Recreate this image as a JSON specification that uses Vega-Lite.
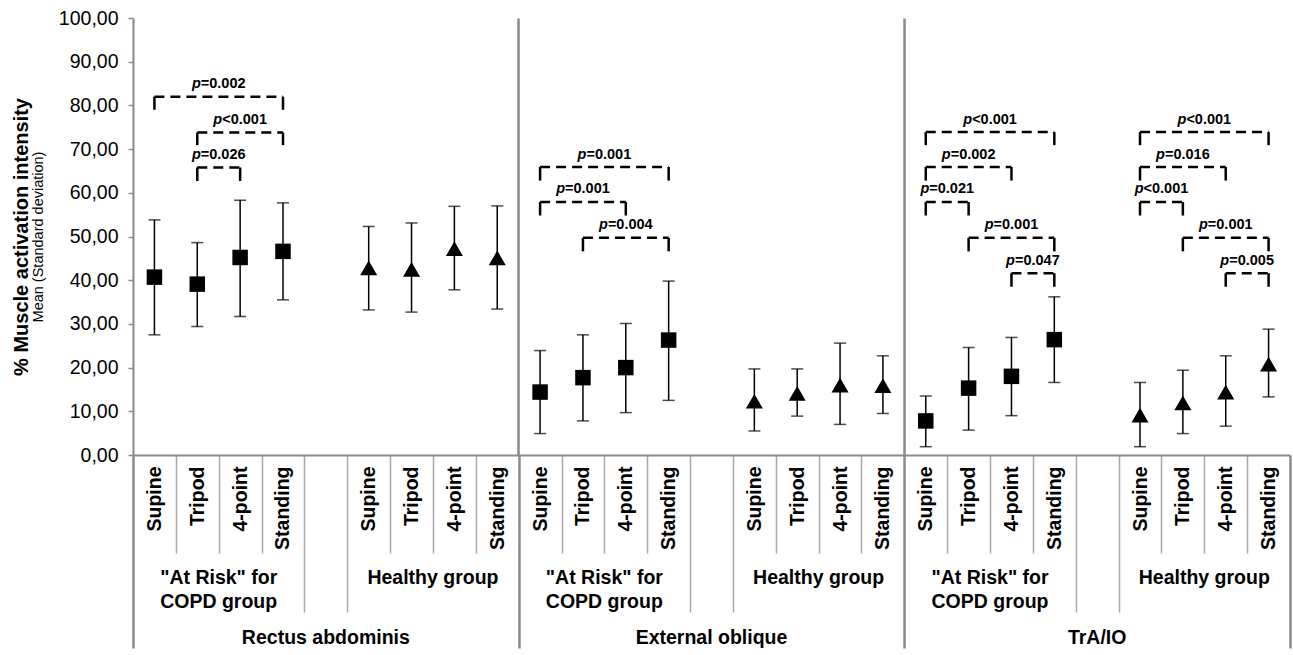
{
  "$schema": "https://vega.github.io/schema/vega-lite/v6.json",
  "width": 1157,
  "height": 437,
  "autosize": {"type": "none"},
  "padding": {"left": 133, "top": 18, "right": 3, "bottom": 200},
  "background": "white",
  "config": {"view": {"stroke": null}, "font": "Liberation Sans"},
  "datasets": {
    "points": [
      {"slot": "RA|AR|Supine", "group": "AR", "mean": 40.7, "lower": 27.5, "upper": 53.8},
      {"slot": "RA|AR|Tripod", "group": "AR", "mean": 39.1, "lower": 29.4, "upper": 48.6},
      {"slot": "RA|AR|4-point", "group": "AR", "mean": 45.2, "lower": 31.7, "upper": 58.3},
      {"slot": "RA|AR|Standing", "group": "AR", "mean": 46.6, "lower": 35.5, "upper": 57.7},
      {"slot": "RA|H|Supine", "group": "H", "mean": 42.8, "lower": 33.2, "upper": 52.3},
      {"slot": "RA|H|Tripod", "group": "H", "mean": 42.5, "lower": 32.7, "upper": 53.1},
      {"slot": "RA|H|4-point", "group": "H", "mean": 47.2, "lower": 37.8, "upper": 56.9},
      {"slot": "RA|H|Standing", "group": "H", "mean": 45.1, "lower": 33.4, "upper": 57.0},
      {"slot": "EO|AR|Supine", "group": "AR", "mean": 14.4, "lower": 4.9, "upper": 23.9},
      {"slot": "EO|AR|Tripod", "group": "AR", "mean": 17.7, "lower": 7.8, "upper": 27.5},
      {"slot": "EO|AR|4-point", "group": "AR", "mean": 20.0, "lower": 9.7, "upper": 30.1},
      {"slot": "EO|AR|Standing", "group": "AR", "mean": 26.3, "lower": 12.5, "upper": 39.8},
      {"slot": "EO|H|Supine", "group": "H", "mean": 12.3, "lower": 5.5, "upper": 19.7},
      {"slot": "EO|H|Tripod", "group": "H", "mean": 14.1, "lower": 8.9, "upper": 19.7},
      {"slot": "EO|H|4-point", "group": "H", "mean": 16.0, "lower": 7.0, "upper": 25.6},
      {"slot": "EO|H|Standing", "group": "H", "mean": 15.9, "lower": 9.5, "upper": 22.7},
      {"slot": "TrA|AR|Supine", "group": "AR", "mean": 7.8, "lower": 1.9, "upper": 13.5},
      {"slot": "TrA|AR|Tripod", "group": "AR", "mean": 15.3, "lower": 5.7, "upper": 24.6},
      {"slot": "TrA|AR|4-point", "group": "AR", "mean": 18.0, "lower": 9.0, "upper": 26.9},
      {"slot": "TrA|AR|Standing", "group": "AR", "mean": 26.4, "lower": 16.6, "upper": 36.2},
      {"slot": "TrA|H|Supine", "group": "H", "mean": 9.1, "lower": 1.9, "upper": 16.6},
      {"slot": "TrA|H|Tripod", "group": "H", "mean": 11.9, "lower": 4.9, "upper": 19.4},
      {"slot": "TrA|H|4-point", "group": "H", "mean": 14.4, "lower": 6.6, "upper": 22.7},
      {"slot": "TrA|H|Standing", "group": "H", "mean": 20.8, "lower": 13.3, "upper": 28.8}
    ],
    "brackets": [
      {"from": "RA|AR|Supine", "to": "RA|AR|Standing", "span": 3, "level": 82.0, "end": 79.0, "label": "=0.002"},
      {"from": "RA|AR|Tripod", "to": "RA|AR|Standing", "span": 2, "level": 73.8, "end": 70.9, "label": "<0.001"},
      {"from": "RA|AR|Tripod", "to": "RA|AR|4-point", "span": 1, "level": 65.8, "end": 62.7, "label": "=0.026"},
      {"from": "EO|AR|Supine", "to": "EO|AR|Standing", "span": 3, "level": 65.9, "end": 62.8, "label": "=0.001"},
      {"from": "EO|AR|Supine", "to": "EO|AR|4-point", "span": 2, "level": 57.9, "end": 54.8, "label": "=0.001"},
      {"from": "EO|AR|Tripod", "to": "EO|AR|Standing", "span": 2, "level": 49.7, "end": 46.6, "label": "=0.004"},
      {"from": "TrA|AR|Supine", "to": "TrA|AR|Standing", "span": 3, "level": 73.9, "end": 70.9, "label": "<0.001"},
      {"from": "TrA|AR|Supine", "to": "TrA|AR|4-point", "span": 2, "level": 65.9, "end": 62.8, "label": "=0.002"},
      {"from": "TrA|AR|Supine", "to": "TrA|AR|Tripod", "span": 1, "level": 57.9, "end": 54.8, "label": "=0.021"},
      {"from": "TrA|AR|Tripod", "to": "TrA|AR|Standing", "span": 2, "level": 49.7, "end": 46.6, "label": "=0.001"},
      {"from": "TrA|AR|4-point", "to": "TrA|AR|Standing", "span": 1, "level": 41.6, "end": 38.5, "label": "=0.047"},
      {"from": "TrA|H|Supine", "to": "TrA|H|Standing", "span": 3, "level": 73.9, "end": 70.9, "label": "<0.001"},
      {"from": "TrA|H|Supine", "to": "TrA|H|4-point", "span": 2, "level": 65.9, "end": 62.8, "label": "=0.016"},
      {"from": "TrA|H|Supine", "to": "TrA|H|Tripod", "span": 1, "level": 57.9, "end": 54.8, "label": "<0.001"},
      {"from": "TrA|H|Tripod", "to": "TrA|H|Standing", "span": 2, "level": 49.7, "end": 46.6, "label": "=0.001"},
      {"from": "TrA|H|4-point", "to": "TrA|H|Standing", "span": 1, "level": 41.6, "end": 38.5, "label": "=0.005"}
    ]
  },
  "resolve": {"axis": {"x": "independent", "y": "independent"}},
  "layer": [
    {
      "data": {"name": "points"},
      "mark": {"type": "rule", "color": "black", "strokeWidth": 1.5},
      "encoding": {
        "x": {
          "field": "slot", "type": "nominal",
          "scale": {"type": "band", "paddingInner": 0, "paddingOuter": 0, "domain": ["RA|AR|Supine","RA|AR|Tripod","RA|AR|4-point","RA|AR|Standing","RA|gap","RA|H|Supine","RA|H|Tripod","RA|H|4-point","RA|H|Standing","EO|AR|Supine","EO|AR|Tripod","EO|AR|4-point","EO|AR|Standing","EO|gap","EO|H|Supine","EO|H|Tripod","EO|H|4-point","EO|H|Standing","TrA|AR|Supine","TrA|AR|Tripod","TrA|AR|4-point","TrA|AR|Standing","TrA|gap","TrA|H|Supine","TrA|H|Tripod","TrA|H|4-point","TrA|H|Standing"]},
          "axis": {
            "orient": "bottom",
            "title": null,
            "grid": false,
            "tickBand": "extent",
            "domainColor": "#8a8a8a",
            "domainWidth": 2,
            "tickColor": {"condition": {"test": "datum.extra || datum.value === 'RA|H|Standing' || datum.value === 'EO|H|Standing' || datum.value === 'TrA|H|Standing'", "value": "#8a8a8a"}, "value": "#a8a8a8"},
            "tickWidth": {"condition": {"test": "datum.extra || datum.value === 'RA|H|Standing' || datum.value === 'EO|H|Standing' || datum.value === 'TrA|H|Standing'", "value": 2.5}, "value": 1.5},
            "tickSize": {"condition": [
              {"test": "datum.extra || datum.value === 'RA|H|Standing' || datum.value === 'EO|H|Standing' || datum.value === 'TrA|H|Standing'", "value": 193},
              {"test": "indexof(['RA|AR|Standing','RA|gap','EO|AR|Standing','EO|gap','TrA|AR|Standing','TrA|gap'], datum.value) >= 0", "value": 157}
            ], "value": 98},
            "labelPadding": {"condition": [
              {"test": "datum.extra || datum.value === 'RA|H|Standing' || datum.value === 'EO|H|Standing' || datum.value === 'TrA|H|Standing'", "value": -182},
              {"test": "indexof(['RA|AR|Standing','RA|gap','EO|AR|Standing','EO|gap','TrA|AR|Standing','TrA|gap'], datum.value) >= 0", "value": -146}
            ], "value": -87},
            "labelExpr": "datum.value && indexof(datum.value, 'gap') < 0 ? split(datum.value, '|')[2] : ''",
            "labelAngle": 270,
            "labelAlign": "right",
            "labelBaseline": "middle",
            "labelFontSize": 19.5,
            "labelFontWeight": "bold",
            "labelColor": "black",
            "labelLimit": 0
          }
        },
        "y": {
          "field": "lower", "type": "quantitative",
          "scale": {"domain": [0, 100], "nice": false, "zero": true},
          "axis": {
            "orient": "left",
            "values": [0, 10, 20, 30, 40, 50, 60, 70, 80, 90, 100],
            "labelExpr": "replace(format(datum.value, '.2f'), '.', ',')",
            "labelFontSize": 19.5,
            "labelColor": "black",
            "labelPadding": 10,
            "tickSize": 5,
            "tickColor": "#8a8a8a",
            "tickWidth": 1.5,
            "domainColor": "#8a8a8a",
            "domainWidth": 2,
            "grid": false,
            "title": "Mean (Standard deviation)",
            "titleFontSize": 14.5,
            "titleFontWeight": "normal",
            "titleColor": "black",
            "titlePadding": 13
          }
        },
        "y2": {"field": "upper"}
      }
    },
    {
      "data": {"name": "points"},
      "mark": {"type": "tick", "color": "black", "size": 12, "thickness": 1.5},
      "encoding": {
        "x": {
          "field": "slot", "type": "nominal",
          "scale": {"type": "band", "paddingInner": 0, "paddingOuter": 0, "domain": ["RA|AR|Supine","RA|AR|Tripod","RA|AR|4-point","RA|AR|Standing","RA|gap","RA|H|Supine","RA|H|Tripod","RA|H|4-point","RA|H|Standing","EO|AR|Supine","EO|AR|Tripod","EO|AR|4-point","EO|AR|Standing","EO|gap","EO|H|Supine","EO|H|Tripod","EO|H|4-point","EO|H|Standing","TrA|AR|Supine","TrA|AR|Tripod","TrA|AR|4-point","TrA|AR|Standing","TrA|gap","TrA|H|Supine","TrA|H|Tripod","TrA|H|4-point","TrA|H|Standing"]},
          "axis": {
            "orient": "bottom",
            "title": null,
            "grid": false,
            "ticks": false,
            "domain": false,
            "values": ["RA|AR|4-point", "RA|H|4-point", "EO|AR|4-point", "EO|H|4-point", "TrA|AR|4-point", "TrA|H|4-point"],
            "labelOffset": -21.43,
            "labelPadding": 113,
            "labelAngle": 0,
            "labelAlign": "center",
            "labelBaseline": "top",
            "labelFontSize": 19.5,
            "labelFontWeight": "bold",
            "labelLineHeight": 24,
            "labelLimit": 0,
            "labelColor": "black",
            "labelExpr": "split(datum.value, '|')[1] === 'AR' ? ['\"At Risk\" for', 'COPD group'] : 'Healthy group'"
          }
        },
        "y": {
          "field": "lower", "type": "quantitative",
          "scale": {"domain": [0, 100], "nice": false, "zero": true},
          "axis": {
            "orient": "left",
            "labels": false,
            "ticks": false,
            "domain": false,
            "grid": false,
            "title": "% Muscle activation intensity",
            "titleFontSize": 20,
            "titleFontWeight": "bold",
            "titleColor": "black",
            "titlePadding": 102
          }
        }
      }
    },
    {
      "data": {"name": "points"},
      "mark": {"type": "tick", "color": "black", "size": 12, "thickness": 1.5},
      "encoding": {
        "x": {
          "field": "slot", "type": "nominal",
          "scale": {"type": "band", "paddingInner": 0, "paddingOuter": 0, "domain": ["RA|AR|Supine","RA|AR|Tripod","RA|AR|4-point","RA|AR|Standing","RA|gap","RA|H|Supine","RA|H|Tripod","RA|H|4-point","RA|H|Standing","EO|AR|Supine","EO|AR|Tripod","EO|AR|4-point","EO|AR|Standing","EO|gap","EO|H|Supine","EO|H|Tripod","EO|H|4-point","EO|H|Standing","TrA|AR|Supine","TrA|AR|Tripod","TrA|AR|4-point","TrA|AR|Standing","TrA|gap","TrA|H|Supine","TrA|H|Tripod","TrA|H|4-point","TrA|H|Standing"]},
          "axis": {
            "orient": "bottom",
            "title": null,
            "grid": false,
            "ticks": false,
            "domain": false,
            "values": ["RA|gap", "EO|gap", "TrA|gap"],
            "labelPadding": 173,
            "labelAngle": 0,
            "labelAlign": "center",
            "labelBaseline": "top",
            "labelFontSize": 19.5,
            "labelFontWeight": "bold",
            "labelLimit": 0,
            "labelColor": "black",
            "labelExpr": "datum.value === 'RA|gap' ? 'Rectus abdominis' : datum.value === 'EO|gap' ? 'External oblique' : 'TrA/IO'"
          }
        },
        "y": {"field": "upper", "type": "quantitative", "scale": {"domain": [0, 100], "nice": false, "zero": true}, "axis": null}
      }
    },
    {
      "data": {"name": "points"},
      "mark": {"type": "point", "filled": true, "color": "black", "opacity": 1},
      "encoding": {
        "x": {
          "field": "slot", "type": "nominal",
          "scale": {"type": "band", "paddingInner": 0, "paddingOuter": 0, "domain": ["RA|AR|Supine","RA|AR|Tripod","RA|AR|4-point","RA|AR|Standing","RA|gap","RA|H|Supine","RA|H|Tripod","RA|H|4-point","RA|H|Standing","EO|AR|Supine","EO|AR|Tripod","EO|AR|4-point","EO|AR|Standing","EO|gap","EO|H|Supine","EO|H|Tripod","EO|H|4-point","EO|H|Standing","TrA|AR|Supine","TrA|AR|Tripod","TrA|AR|4-point","TrA|AR|Standing","TrA|gap","TrA|H|Supine","TrA|H|Tripod","TrA|H|4-point","TrA|H|Standing"]},
          "axis": {
            "orient": "bottom",
            "title": null,
            "values": ["RA|H|Standing", "EO|H|Standing"],
            "bandPosition": 1,
            "grid": true,
            "gridColor": "#8a8a8a",
            "gridWidth": 2.5,
            "ticks": false,
            "labels": false,
            "domain": false
          }
        },
        "y": {"field": "mean", "type": "quantitative", "scale": {"domain": [0, 100], "nice": false, "zero": true}, "axis": null},
        "shape": {"field": "group", "type": "nominal", "scale": {"domain": ["AR", "H"], "range": ["square", "triangle-up"]}, "legend": null},
        "size": {"field": "group", "type": "ordinal", "scale": {"domain": ["AR", "H"], "range": [240, 290]}, "legend": null}
      }
    },
    {
      "data": {"name": "brackets"},
      "mark": {"type": "rule", "color": "black", "strokeWidth": 2.5, "strokeDash": [10, 6]},
      "encoding": {
        "x": {"field": "from", "type": "nominal", "bandPosition": 0.5, "scale": {"type": "band", "paddingInner": 0, "paddingOuter": 0, "domain": ["RA|AR|Supine","RA|AR|Tripod","RA|AR|4-point","RA|AR|Standing","RA|gap","RA|H|Supine","RA|H|Tripod","RA|H|4-point","RA|H|Standing","EO|AR|Supine","EO|AR|Tripod","EO|AR|4-point","EO|AR|Standing","EO|gap","EO|H|Supine","EO|H|Tripod","EO|H|4-point","EO|H|Standing","TrA|AR|Supine","TrA|AR|Tripod","TrA|AR|4-point","TrA|AR|Standing","TrA|gap","TrA|H|Supine","TrA|H|Tripod","TrA|H|4-point","TrA|H|Standing"]}, "axis": null},
        "x2": {"field": "to", "bandPosition": 0.5},
        "y": {"field": "level", "type": "quantitative", "scale": {"domain": [0, 100], "nice": false, "zero": true}, "axis": null}
      }
    },
    {
      "data": {"name": "brackets"},
      "mark": {"type": "rule", "color": "black", "strokeWidth": 2.5},
      "encoding": {
        "x": {"field": "from", "type": "nominal", "bandPosition": 0.5, "scale": {"type": "band", "paddingInner": 0, "paddingOuter": 0, "domain": ["RA|AR|Supine","RA|AR|Tripod","RA|AR|4-point","RA|AR|Standing","RA|gap","RA|H|Supine","RA|H|Tripod","RA|H|4-point","RA|H|Standing","EO|AR|Supine","EO|AR|Tripod","EO|AR|4-point","EO|AR|Standing","EO|gap","EO|H|Supine","EO|H|Tripod","EO|H|4-point","EO|H|Standing","TrA|AR|Supine","TrA|AR|Tripod","TrA|AR|4-point","TrA|AR|Standing","TrA|gap","TrA|H|Supine","TrA|H|Tripod","TrA|H|4-point","TrA|H|Standing"]}, "axis": null},
        "y": {"field": "level", "type": "quantitative", "scale": {"domain": [0, 100], "nice": false, "zero": true}, "axis": null},
        "y2": {"field": "end"}
      }
    },
    {
      "data": {"name": "brackets"},
      "mark": {"type": "rule", "color": "black", "strokeWidth": 2.5},
      "encoding": {
        "x": {"field": "to", "type": "nominal", "bandPosition": 0.5, "scale": {"type": "band", "paddingInner": 0, "paddingOuter": 0, "domain": ["RA|AR|Supine","RA|AR|Tripod","RA|AR|4-point","RA|AR|Standing","RA|gap","RA|H|Supine","RA|H|Tripod","RA|H|4-point","RA|H|Standing","EO|AR|Supine","EO|AR|Tripod","EO|AR|4-point","EO|AR|Standing","EO|gap","EO|H|Supine","EO|H|Tripod","EO|H|4-point","EO|H|Standing","TrA|AR|Supine","TrA|AR|Tripod","TrA|AR|4-point","TrA|AR|Standing","TrA|gap","TrA|H|Supine","TrA|H|Tripod","TrA|H|4-point","TrA|H|Standing"]}, "axis": null},
        "y": {"field": "level", "type": "quantitative", "scale": {"domain": [0, 100], "nice": false, "zero": true}, "axis": null},
        "y2": {"field": "end"}
      }
    },
    {
      "data": {"name": "brackets"},
      "transform": [{"filter": "datum.span === 1"}],
      "mark": {"type": "text", "text": "p", "color": "black", "font": "Liberation Sans", "fontSize": 14.5, "fontWeight": "bold", "fontStyle": "italic", "align": "left", "baseline": "alphabetic", "dx": -26.8, "dy": -8.5},
      "encoding": {
        "x": {"field": "from", "type": "nominal", "bandPosition": 1, "scale": {"type": "band", "paddingInner": 0, "paddingOuter": 0, "domain": ["RA|AR|Supine","RA|AR|Tripod","RA|AR|4-point","RA|AR|Standing","RA|gap","RA|H|Supine","RA|H|Tripod","RA|H|4-point","RA|H|Standing","EO|AR|Supine","EO|AR|Tripod","EO|AR|4-point","EO|AR|Standing","EO|gap","EO|H|Supine","EO|H|Tripod","EO|H|4-point","EO|H|Standing","TrA|AR|Supine","TrA|AR|Tripod","TrA|AR|4-point","TrA|AR|Standing","TrA|gap","TrA|H|Supine","TrA|H|Tripod","TrA|H|4-point","TrA|H|Standing"]}, "axis": null},
        "y": {"field": "level", "type": "quantitative", "scale": {"domain": [0, 100], "nice": false, "zero": true}, "axis": null}
      }
    },
    {
      "data": {"name": "brackets"},
      "transform": [{"filter": "datum.span === 2"}],
      "mark": {"type": "text", "text": "p", "color": "black", "font": "Liberation Sans", "fontSize": 14.5, "fontWeight": "bold", "fontStyle": "italic", "align": "left", "baseline": "alphabetic", "dx": -26.8, "dy": -8.5},
      "encoding": {
        "x": {"field": "from", "type": "nominal", "bandPosition": 1.5, "scale": {"type": "band", "paddingInner": 0, "paddingOuter": 0, "domain": ["RA|AR|Supine","RA|AR|Tripod","RA|AR|4-point","RA|AR|Standing","RA|gap","RA|H|Supine","RA|H|Tripod","RA|H|4-point","RA|H|Standing","EO|AR|Supine","EO|AR|Tripod","EO|AR|4-point","EO|AR|Standing","EO|gap","EO|H|Supine","EO|H|Tripod","EO|H|4-point","EO|H|Standing","TrA|AR|Supine","TrA|AR|Tripod","TrA|AR|4-point","TrA|AR|Standing","TrA|gap","TrA|H|Supine","TrA|H|Tripod","TrA|H|4-point","TrA|H|Standing"]}, "axis": null},
        "y": {"field": "level", "type": "quantitative", "scale": {"domain": [0, 100], "nice": false, "zero": true}, "axis": null}
      }
    },
    {
      "data": {"name": "brackets"},
      "transform": [{"filter": "datum.span === 3"}],
      "mark": {"type": "text", "text": "p", "color": "black", "font": "Liberation Sans", "fontSize": 14.5, "fontWeight": "bold", "fontStyle": "italic", "align": "left", "baseline": "alphabetic", "dx": -26.8, "dy": -8.5},
      "encoding": {
        "x": {"field": "from", "type": "nominal", "bandPosition": 2, "scale": {"type": "band", "paddingInner": 0, "paddingOuter": 0, "domain": ["RA|AR|Supine","RA|AR|Tripod","RA|AR|4-point","RA|AR|Standing","RA|gap","RA|H|Supine","RA|H|Tripod","RA|H|4-point","RA|H|Standing","EO|AR|Supine","EO|AR|Tripod","EO|AR|4-point","EO|AR|Standing","EO|gap","EO|H|Supine","EO|H|Tripod","EO|H|4-point","EO|H|Standing","TrA|AR|Supine","TrA|AR|Tripod","TrA|AR|4-point","TrA|AR|Standing","TrA|gap","TrA|H|Supine","TrA|H|Tripod","TrA|H|4-point","TrA|H|Standing"]}, "axis": null},
        "y": {"field": "level", "type": "quantitative", "scale": {"domain": [0, 100], "nice": false, "zero": true}, "axis": null}
      }
    },
    {
      "data": {"name": "brackets"},
      "transform": [{"filter": "datum.span === 1"}],
      "mark": {"type": "text", "color": "black", "font": "Liberation Sans", "fontSize": 14.5, "fontWeight": "bold", "align": "left", "baseline": "alphabetic", "dx": -17.9, "dy": -8.5},
      "encoding": {
        "x": {"field": "from", "type": "nominal", "bandPosition": 1, "scale": {"type": "band", "paddingInner": 0, "paddingOuter": 0, "domain": ["RA|AR|Supine","RA|AR|Tripod","RA|AR|4-point","RA|AR|Standing","RA|gap","RA|H|Supine","RA|H|Tripod","RA|H|4-point","RA|H|Standing","EO|AR|Supine","EO|AR|Tripod","EO|AR|4-point","EO|AR|Standing","EO|gap","EO|H|Supine","EO|H|Tripod","EO|H|4-point","EO|H|Standing","TrA|AR|Supine","TrA|AR|Tripod","TrA|AR|4-point","TrA|AR|Standing","TrA|gap","TrA|H|Supine","TrA|H|Tripod","TrA|H|4-point","TrA|H|Standing"]}, "axis": null},
        "y": {"field": "level", "type": "quantitative", "scale": {"domain": [0, 100], "nice": false, "zero": true}, "axis": null},
        "text": {"field": "label"}
      }
    },
    {
      "data": {"name": "brackets"},
      "transform": [{"filter": "datum.span === 2"}],
      "mark": {"type": "text", "color": "black", "font": "Liberation Sans", "fontSize": 14.5, "fontWeight": "bold", "align": "left", "baseline": "alphabetic", "dx": -17.9, "dy": -8.5},
      "encoding": {
        "x": {"field": "from", "type": "nominal", "bandPosition": 1.5, "scale": {"type": "band", "paddingInner": 0, "paddingOuter": 0, "domain": ["RA|AR|Supine","RA|AR|Tripod","RA|AR|4-point","RA|AR|Standing","RA|gap","RA|H|Supine","RA|H|Tripod","RA|H|4-point","RA|H|Standing","EO|AR|Supine","EO|AR|Tripod","EO|AR|4-point","EO|AR|Standing","EO|gap","EO|H|Supine","EO|H|Tripod","EO|H|4-point","EO|H|Standing","TrA|AR|Supine","TrA|AR|Tripod","TrA|AR|4-point","TrA|AR|Standing","TrA|gap","TrA|H|Supine","TrA|H|Tripod","TrA|H|4-point","TrA|H|Standing"]}, "axis": null},
        "y": {"field": "level", "type": "quantitative", "scale": {"domain": [0, 100], "nice": false, "zero": true}, "axis": null},
        "text": {"field": "label"}
      }
    },
    {
      "data": {"name": "brackets"},
      "transform": [{"filter": "datum.span === 3"}],
      "mark": {"type": "text", "color": "black", "font": "Liberation Sans", "fontSize": 14.5, "fontWeight": "bold", "align": "left", "baseline": "alphabetic", "dx": -17.9, "dy": -8.5},
      "encoding": {
        "x": {"field": "from", "type": "nominal", "bandPosition": 2, "scale": {"type": "band", "paddingInner": 0, "paddingOuter": 0, "domain": ["RA|AR|Supine","RA|AR|Tripod","RA|AR|4-point","RA|AR|Standing","RA|gap","RA|H|Supine","RA|H|Tripod","RA|H|4-point","RA|H|Standing","EO|AR|Supine","EO|AR|Tripod","EO|AR|4-point","EO|AR|Standing","EO|gap","EO|H|Supine","EO|H|Tripod","EO|H|4-point","EO|H|Standing","TrA|AR|Supine","TrA|AR|Tripod","TrA|AR|4-point","TrA|AR|Standing","TrA|gap","TrA|H|Supine","TrA|H|Tripod","TrA|H|4-point","TrA|H|Standing"]}, "axis": null},
        "y": {"field": "level", "type": "quantitative", "scale": {"domain": [0, 100], "nice": false, "zero": true}, "axis": null},
        "text": {"field": "label"}
      }
    }
  ]
}
